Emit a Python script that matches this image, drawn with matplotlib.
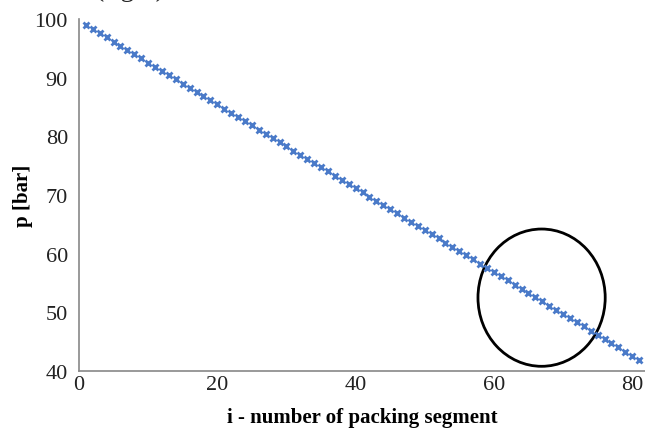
import matplotlib
matplotlib.use("Agg")
import matplotlib.pyplot as plt
from matplotlib.patches import Ellipse

# packing segment index and pressure
segment = list(range(1, 82))
pressure = [99.00, 98.29, 97.57, 96.86, 96.14, 95.43, 94.72, 94.00, 93.29, 92.57,
            91.86, 91.15, 90.43, 89.72, 89.00, 88.29, 87.58, 86.86, 86.15, 85.43,
            84.72, 84.01, 83.29, 82.58, 81.86, 81.15, 80.44, 79.72, 79.01, 78.29,
            77.58, 76.87, 76.15, 75.44, 74.72, 74.01, 73.30, 72.58, 71.87, 71.15,
            70.44, 69.73, 69.01, 68.30, 67.58, 66.87, 66.16, 65.44, 64.73, 64.01,
            63.30, 62.59, 61.87, 61.16, 60.44, 59.73, 59.02, 58.30, 57.59, 56.87,
            56.16, 55.45, 54.73, 54.02, 53.30, 52.59, 51.88, 51.16, 50.45, 49.73,
            49.02, 48.31, 47.59, 46.88, 46.16, 45.45, 44.74, 44.02, 43.31, 42.59,
            41.88]
x_ticks = [0, 20, 40, 60, 80]
y_ticks = [40, 50, 60, 70, 80, 90, 100]

plt.rcParams['font.family'] = ['Liberation Serif', 'DejaVu Serif']

fig = plt.figure(figsize=(6.45, 4.35), dpi=100)
ax = fig.add_axes([79 / 645, 63 / 435, 567 / 645, 352 / 435])

ax.plot(segment, pressure, linestyle='none', marker='x', markersize=4,
        markeredgewidth=2, color='#4a7ac8')

# highlight circle
ax.add_patch(Ellipse((66.9, 52.5), 18.4, 23.4, fill=False, edgecolor='black',
                     linewidth=2))

ax.set_xlim(0, 82)
ax.set_ylim(40, 100)
ax.set_xticks(x_ticks)
ax.set_yticks(y_ticks)
ax.tick_params(axis='both', length=0, labelsize=16, colors='#222222')
ax.tick_params(axis='y', pad=8)
ax.tick_params(axis='x', pad=3)

for s in ['top', 'right']:
    ax.spines[s].set_visible(False)
for s in ['left', 'bottom']:
    ax.spines[s].set_color('#888888')
    ax.spines[s].set_linewidth(1.2)

ax.set_xlabel('i - number of packing segment', fontsize=15, fontweight='bold', labelpad=9)
ax.set_ylabel('p [bar]', fontsize=15, fontweight='bold', labelpad=1)

# caption remnant cut at the top edge
fig.text(130 / 645, 1.01, '(right)', fontsize=20, ha='center', va='baseline',
         color='#222222')

fig.savefig('out.png', dpi=100)
